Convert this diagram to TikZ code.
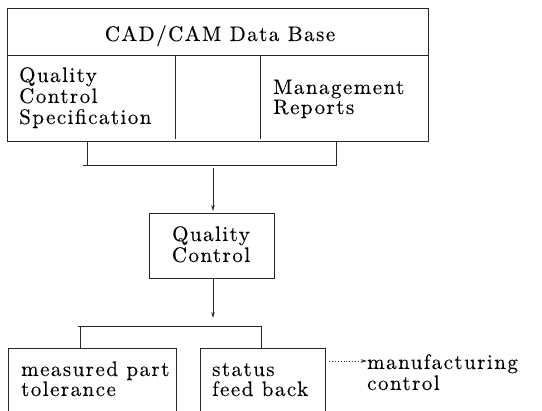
\documentclass[tikz,border=0pt]{standalone}
\usepackage{fontspec}
\newfontfamily\diafont{lmroman10-regular}[Extension=.otf, LetterSpace=7, FakeBold=0.2]
\usetikzlibrary{arrows.meta}
\begin{document}
\begin{tikzpicture}[x=1pt,y=-1pt,
  frame/.style={draw=black!85, line width=0.8pt},
  lbl/.style={inner sep=0pt, font=\diafont\fontsize{21}{21}\selectfont},
  arr/.style={frame, -{Stealth[length=6pt,width=3.5pt]}},
  dotarr/.style={draw=black!85, line width=0.9pt, dotted, -{Stealth[length=6pt,width=3.5pt]}}]
\useasboundingbox (0,0) rectangle (542,411);

% data base block
\node[frame, inner sep=0pt, minimum width=421pt, minimum height=133pt, anchor=north west] (db) at (7,8) {};
\coordinate (dl) at (7,55);
\coordinate (dr) at (428,55);
\draw[frame] (dl) -- (dr);
\coordinate (c1t) at (175,55);
\coordinate (c1b) at (175,139);
\coordinate (c2t) at (260,55);
\coordinate (c2b) at (260,139);
\draw[frame] (c1t) -- (c1b);
\draw[frame] (c2t) -- (c2b);

\node[lbl, anchor=base] (title) at (220,41) {CAD/CAM Data Base};
\node[lbl, anchor=base west] (qcs1) at (19,82) {Quality};
\node[lbl, anchor=base west] (qcs2) at (19,103) {Control};
\node[lbl, anchor=base west] (qcs3) at (19,124) {Specification};
\node[lbl, anchor=base west] (mr1) at (273,94) {Management};
\node[lbl, anchor=base west] (mr2) at (273,114) {Reports};

% collecting bracket under the data base
\coordinate (ba) at (87,141);
\coordinate (bb) at (87,165);
\coordinate (bc) at (336,165);
\coordinate (bd) at (336,141);
\coordinate (be) at (83,165);
\draw[frame] (ba) -- (bb);
\draw[frame] (be) -- (bc) -- (bd);
\coordinate (bm) at (213,168);

% quality control box
\node[frame, inner sep=0pt, minimum width=125pt, minimum height=65pt, anchor=north west] (qc) at (149,213) {};
\node[lbl, anchor=base] (qc1) at (211,241) {Quality};
\node[lbl, anchor=base] (qc2) at (211,262) {Control};
\coordinate (qctop) at (213,213);
\coordinate (qcbot) at (213,278);
\draw[arr, shorten >=2pt] (bm) -- (qctop);

% splitting bracket
\coordinate (sm) at (213,318);
\draw[arr] (qcbot) -- (sm);
\coordinate (sa) at (80,348);
\coordinate (sb) at (80,326);
\coordinate (sc) at (261,326);
\coordinate (sd) at (261,348);
\coordinate (se) at (78,326);
\draw[frame] (sa) -- (sb);
\draw[frame] (se) -- (sc) -- (sd);

% output boxes, open at the bottom
\coordinate (m1) at (8,411);
\coordinate (m2) at (8,348);
\coordinate (m3) at (176,348);
\coordinate (m4) at (176,411);
\draw[frame] (m1) -- (m2) -- (m3) -- (m4);
\node[lbl, anchor=base west] (mp1) at (21,376) {measured part};
\node[lbl, anchor=base west] (mp2) at (21,396) {tolerance};

\coordinate (s1) at (200,411);
\coordinate (s2) at (200,348);
\coordinate (s3) at (325,348);
\coordinate (s4) at (325,411);
\draw[frame] (s1) -- (s2) -- (s3) -- (s4);
\node[lbl, anchor=base west] (sf1) at (212,376) {status};
\node[lbl, anchor=base west] (sf2) at (212,396) {feed back};

\node[lbl, anchor=base west] (mc1) at (367,369) {manufacturing};
\node[lbl, anchor=base west] (mc2) at (367,390) {control};
\coordinate (da) at (329,361);
\draw[dotarr] (da) -- (mc1.west |- da);
\end{tikzpicture}
\end{document}
